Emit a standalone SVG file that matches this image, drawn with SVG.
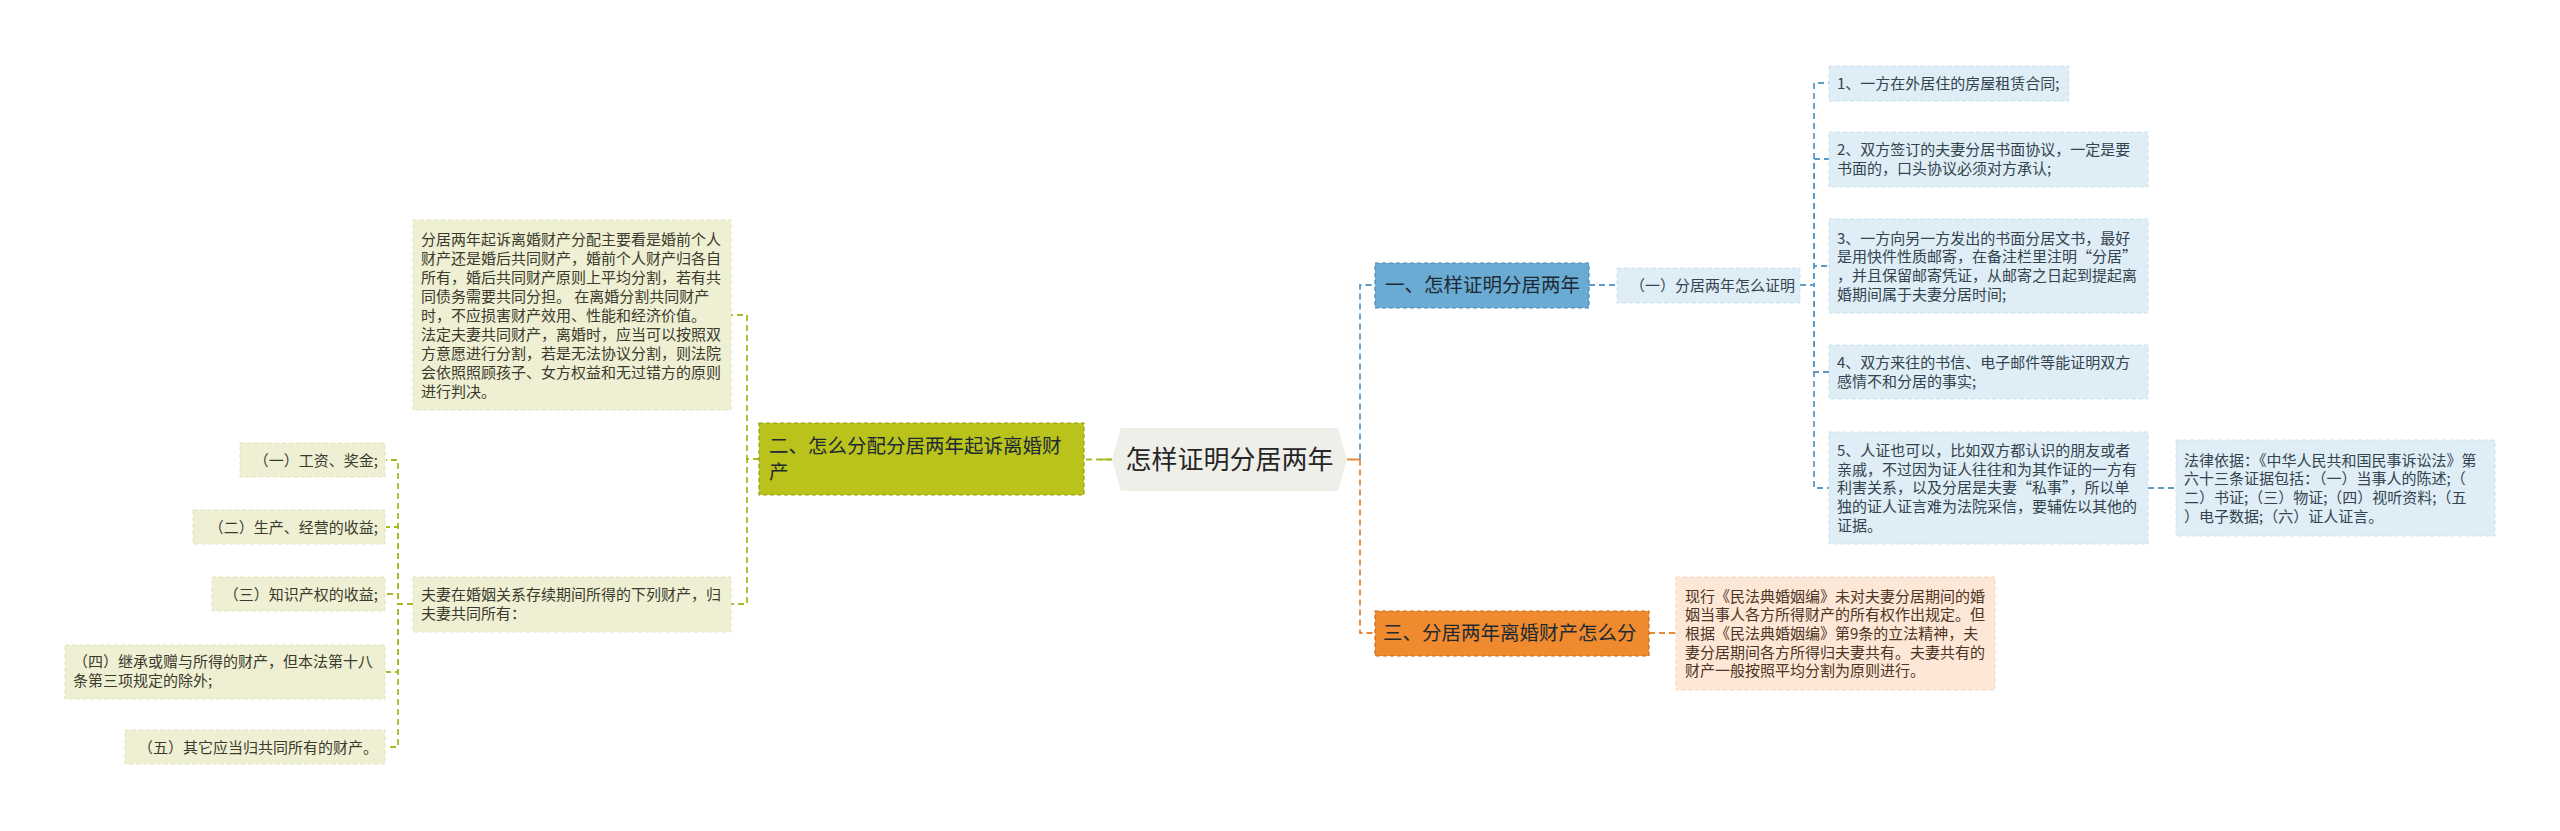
<svg xmlns="http://www.w3.org/2000/svg" width="2560" height="831" viewBox="0 0 2560 831">
<style>
text{font-family:"Noto Sans CJK SC","Noto Sans",sans-serif;}
.leaf{font-size:15px;}
.main{font-size:19.5px;fill:#1e2a33;}
.cb{fill:none;stroke:#5d9ac4;stroke-width:1.8;stroke-dasharray:6 4;}
.co{fill:none;stroke:#e8883a;stroke-width:1.8;stroke-dasharray:6 4;}
.cg{fill:none;stroke:#aab826;stroke-width:1.8;stroke-dasharray:6 4;}
.bl{fill:#deedf6;stroke:#cde2ef;stroke-width:1;stroke-dasharray:4 3;}
.gl{fill:#eff0d3;stroke:#e2e4bc;stroke-width:1;stroke-dasharray:4 3;}
.ol{fill:#fde7d6;stroke:#f6d5bd;stroke-width:1;stroke-dasharray:4 3;}
.tb{fill:#34434e;}
.tg{fill:#3a3a2e;}
.to{fill:#4d3525;}
</style>
<rect width="2560" height="831" fill="#ffffff"/>
<g id="connectors">
  <path class="cg" d="M1112,459.5 H1084"/>
  <path d="M1100,459.5 H1112" stroke="#aab826" stroke-width="1.8" fill="none"/>
  <path class="cg" d="M759,459 H747 V315 H731"/>
  <path class="cg" d="M759,459 H747 V604 H731"/>
  <path class="cg" d="M413,604 H398 V460 H386"/>
  <path class="cg" d="M413,604 H398 V527 H386"/>
  <path class="cg" d="M413,604 H398 V594 H386"/>
  <path class="cg" d="M413,604 H398 V672 H386"/>
  <path class="cg" d="M413,604 H398 V747 H386"/>
  <path d="M1347,459.5 H1360" stroke="#e8883a" stroke-width="2" fill="none"/>
  <path class="cb" d="M1360,459.5 V285 H1375"/>
  <path class="co" d="M1360,459.5 V633 H1375"/>
  <path class="cb" d="M1589,285 H1617"/>
  <path class="cb" d="M1800,285 H1814 V83 H1829"/>
  <path class="cb" d="M1800,285 H1814 V159 H1829"/>
  <path class="cb" d="M1800,285 H1814 V266 H1829"/>
  <path class="cb" d="M1800,285 H1814 V372 H1829"/>
  <path class="cb" d="M1800,285 H1814 V488 H1829"/>
  <path class="cb" d="M2148,488 H2176"/>
  <path class="co" d="M1649,633 H1676"/>
</g>
<g id="center">
  <polygon points="1112,459.5 1121,428 1338,428 1347,459.5 1338,491 1121,491" fill="#efefe9"/>
  <text x="1229.5" y="469" font-size="26" text-anchor="middle" fill="#262626">怎样证明分居两年</text>
</g>
<g id="n2">
  <rect x="759" y="423" width="325" height="72" fill="#b9c31b" stroke="#939d12" stroke-width="1.2" stroke-dasharray="4 3"/>
  <text class="main" x="769" y="453" fill="#2d2d1e">二、怎么分配分居两年起诉离婚财</text>
  <text class="main" x="769" y="479" fill="#2d2d1e">产</text>
</g>
<g id="n2a">
  <rect class="gl" x="413" y="220" width="318" height="190"/>
  <text class="leaf tg" x="421">
    <tspan x="421" y="245">分居两年起诉离婚财产分配主要看是婚前个人</tspan>
    <tspan x="421" y="264">财产还是婚后共同财产，婚前个人财产归各自</tspan>
    <tspan x="421" y="283">所有，婚后共同财产原则上平均分割，若有共</tspan>
    <tspan x="421" y="302">同债务需要共同分担。 在离婚分割共同财产</tspan>
    <tspan x="421" y="321">时，不应损害财产效用、性能和经济价值。</tspan>
    <tspan x="421" y="340">法定夫妻共同财产，离婚时，应当可以按照双</tspan>
    <tspan x="421" y="359">方意愿进行分割，若是无法协议分割，则法院</tspan>
    <tspan x="421" y="378">会依照照顾孩子、女方权益和无过错方的原则</tspan>
    <tspan x="421" y="397">进行判决。</tspan>
  </text>
</g>
<g id="n2b">
  <rect class="gl" x="413" y="577" width="318" height="55"/>
  <text class="leaf tg"><tspan x="421" y="600">夫妻在婚姻关系存续期间所得的下列财产，归</tspan><tspan x="421" y="619">夫妻共同所有：</tspan></text>
</g>
<g id="n2b1">
  <rect class="gl" x="240" y="443" width="145" height="34"/>
  <text class="leaf tg" x="378" y="465.5" text-anchor="end">（一）工资、奖金;</text>
</g>
<g id="n2b2">
  <rect class="gl" x="193" y="510" width="192" height="34"/>
  <text class="leaf tg" x="378" y="532.5" text-anchor="end">（二）生产、经营的收益;</text>
</g>
<g id="n2b3">
  <rect class="gl" x="212" y="577" width="173" height="34"/>
  <text class="leaf tg" x="378" y="599.5" text-anchor="end">（三）知识产权的收益;</text>
</g>
<g id="n2b4">
  <rect class="gl" x="65" y="645" width="320" height="54"/>
  <text class="leaf tg"><tspan x="73" y="667">（四）继承或赠与所得的财产，但本法第十八</tspan><tspan x="73" y="686">条第三项规定的除外;</tspan></text>
</g>
<g id="n2b5">
  <rect class="gl" x="125" y="730" width="260" height="34"/>
  <text class="leaf tg" x="378" y="752.5" text-anchor="end">（五）其它应当归共同所有的财产。</text>
</g>
<g id="n1">
  <rect x="1375" y="263" width="214" height="45" fill="#6aabd3" stroke="#4b89b3" stroke-width="1.2" stroke-dasharray="4 3"/>
  <text class="main" x="1385" y="292">一、怎样证明分居两年</text>
</g>
<g id="n1a">
  <rect class="bl" x="1617" y="268" width="183" height="35"/>
  <text class="leaf tb" x="1630" y="290.5" font-size="14.5">（一）分居两年怎么证明</text>
</g>
<g id="n1a1">
  <rect class="bl" x="1829" y="66" width="240" height="35"/>
  <text class="leaf tb" x="1837" y="88.5">1、一方在外居住的房屋租赁合同;</text>
</g>
<g id="n1a2">
  <rect class="bl" x="1829" y="132" width="319" height="55"/>
  <text class="leaf tb"><tspan x="1837" y="155">2、双方签订的夫妻分居书面协议，一定是要</tspan><tspan x="1837" y="174">书面的，口头协议必须对方承认;</tspan></text>
</g>
<g id="n1a3">
  <rect class="bl" x="1829" y="219" width="319" height="94"/>
  <text class="leaf tb"><tspan x="1837" y="243.5">3、一方向另一方发出的书面分居文书，最好</tspan><tspan x="1837" y="262">是用快件性质邮寄，在备注栏里注明“分居”</tspan><tspan x="1837" y="281">，并且保留邮寄凭证，从邮寄之日起到提起离</tspan><tspan x="1837" y="300">婚期间属于夫妻分居时间;</tspan></text>
</g>
<g id="n1a4">
  <rect class="bl" x="1829" y="345" width="319" height="54"/>
  <text class="leaf tb"><tspan x="1837" y="368">4、双方来往的书信、电子邮件等能证明双方</tspan><tspan x="1837" y="387">感情不和分居的事实;</tspan></text>
</g>
<g id="n1a5">
  <rect class="bl" x="1829" y="432" width="319" height="112"/>
  <text class="leaf tb"><tspan x="1837" y="456">5、人证也可以，比如双方都认识的朋友或者</tspan><tspan x="1837" y="474.7">亲戚，不过因为证人往往和为其作证的一方有</tspan><tspan x="1837" y="493.4">利害关系，以及分居是夫妻“私事”，所以单</tspan><tspan x="1837" y="512.1">独的证人证言难为法院采信，要辅佐以其他的</tspan><tspan x="1837" y="530.8">证据。</tspan></text>
</g>
<g id="n1a5a">
  <rect class="bl" x="2176" y="440" width="319" height="96"/>
  <text class="leaf tb"><tspan x="2184" y="465.5">法律依据：《中华人民共和国民事诉讼法》第</tspan><tspan x="2184" y="484.2">六十三条证据包括：（一）当事人的陈述;（</tspan><tspan x="2184" y="502.9">二）书证;（三）物证;（四）视听资料;（五</tspan><tspan x="2184" y="521.6">）电子数据;（六）证人证言。</tspan></text>
</g>
<g id="n3">
  <rect x="1375" y="611" width="274" height="45" fill="#f08a2e" stroke="#c96d1d" stroke-width="1.2" stroke-dasharray="4 3"/>
  <text class="main" x="1383" y="640">三、分居两年离婚财产怎么分</text>
</g>
<g id="n3a">
  <rect class="ol" x="1676" y="577" width="319" height="113"/>
  <text class="leaf to"><tspan x="1685" y="601.5">现行《民法典婚姻编》未对夫妻分居期间的婚</tspan><tspan x="1685" y="620.2">姻当事人各方所得财产的所有权作出规定。但</tspan><tspan x="1685" y="638.9">根据《民法典婚姻编》第9条的立法精神，夫</tspan><tspan x="1685" y="657.6">妻分居期间各方所得归夫妻共有。夫妻共有的</tspan><tspan x="1685" y="676.3">财产一般按照平均分割为原则进行。</tspan></text>
</g>
</svg>
